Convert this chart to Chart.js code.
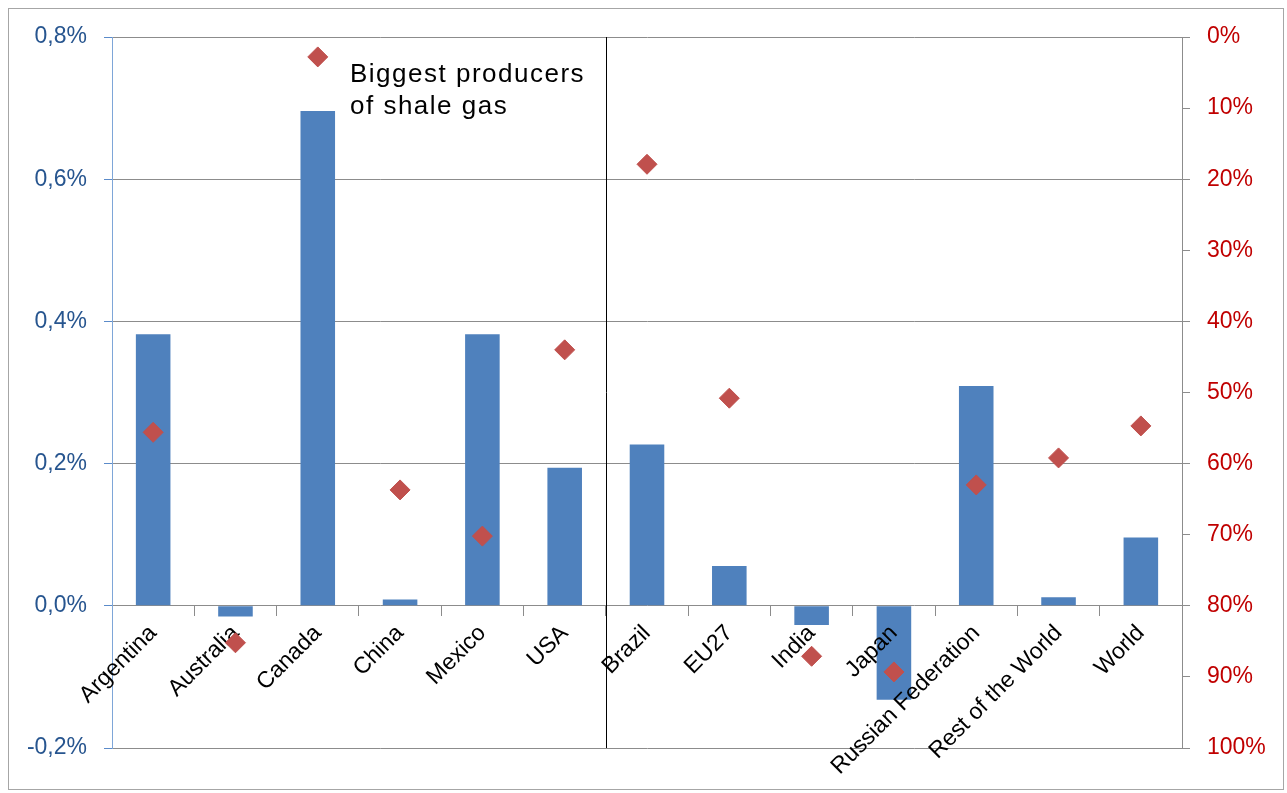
<!DOCTYPE html>
<html>
<head>
<meta charset="utf-8">
<script src="https://cdn.jsdelivr.net/npm/chart.js@4/dist/chart.umd.min.js"></script>
<style>
  html, body { margin: 0; padding: 0; background: #ffffff; }
  #wrap { width: 1287px; height: 793px; position: relative; }
</style>
</head>
<body>
<div id="wrap"><canvas id="c" width="1287" height="793"></canvas></div>
<script>
// ---- data ----
const categories = ['Argentina', 'Australia', 'Canada', 'China', 'Mexico', 'USA',
  'Brazil', 'EU27', 'India', 'Japan', 'Russian Federation', 'Rest of the World', 'World'];
// bars, left axis (percent)
const growthValues = [0.382, -0.015, 0.696, 0.009, 0.382, 0.194,
  0.227, 0.056, -0.027, -0.132, 0.309, 0.012, 0.096];
// diamonds, right axis (percent, reversed)
const shareValues = [55.6, 85.2, 2.8, 63.7, 70.2, 44.0,
  17.9, 50.8, 87.1, 89.3, 63.0, 59.2, 54.7];
const leftAxisTicks = [-0.2, 0, 0.2, 0.4, 0.6, 0.8];
const rightAxisTicks = [0, 10, 20, 30, 40, 50, 60, 70, 80, 90, 100];
const noteLines = ['Biggest producers', 'of shale gas'];
const dividerAfterIndex = 5; // line between USA and Brazil

const gridGray = '#8c8c8c';

const decorPlugin = {
  id: 'decor',
  beforeDraw(chart) {
    const ctx = chart.ctx;
    ctx.save();
    ctx.fillStyle = '#ffffff';
    ctx.fillRect(0, 0, chart.width, chart.height);
    ctx.strokeStyle = '#a6a6a6';
    ctx.lineWidth = 1;
    ctx.strokeRect(8.5, 8.5, 1275, 781);
    ctx.restore();
  },
  beforeDatasetsDraw(chart) {
    const ctx = chart.ctx;
    const x = chart.scales.x;
    const area = chart.chartArea;
    const px = Math.round((x.getPixelForValue(dividerAfterIndex) + x.getPixelForValue(dividerAfterIndex + 1)) / 2) + 0.5;
    ctx.save();
    ctx.strokeStyle = '#000000';
    ctx.lineWidth = 1;
    ctx.beginPath();
    ctx.moveTo(px, area.top);
    ctx.lineTo(px, area.bottom);
    ctx.stroke();
    ctx.restore();
  },
  beforeDatasetDraw(chart, args) {
    // diamonds are drawn later, above the category labels
    if (args.index === 0) return false;
  },
  afterDraw(chart) {
    const meta = chart.getDatasetMeta(0);
    if (meta && meta.controller) meta.controller.draw();
    const ctx = chart.ctx;
    ctx.save();
    ctx.fillStyle = '#000000';
    ctx.font = '26px "Liberation Sans", Arial, sans-serif';
    if ('letterSpacing' in ctx) ctx.letterSpacing = '1.5px';
    ctx.textAlign = 'left';
    ctx.textBaseline = 'alphabetic';
    noteLines.forEach((t, i) => ctx.fillText(t, 350, 82 + i * 32));
    ctx.restore();
  }
};

new Chart(document.getElementById('c'), {
  data: {
    labels: categories,
    datasets: [
      {
        type: 'line',
        label: 'Share',
        data: shareValues,
        yAxisID: 'y2',
        showLine: false,
        pointStyle: 'rectRot',
        pointRadius: 10,
        pointHoverRadius: 10,
        pointBackgroundColor: '#C0504D',
        pointBorderColor: '#C0504D',
        pointBorderWidth: 1,
        order: 0,
        clip: false
      },
      {
        type: 'bar',
        label: 'Growth',
        data: growthValues,
        yAxisID: 'y',
        backgroundColor: '#4F81BD',
        borderWidth: 0,
        categoryPercentage: 1.0,
        barPercentage: 0.42,
        order: 1
      }
    ]
  },
  options: {
    responsive: false,
    animation: false,
    events: [],
    layout: { padding: { top: 37, bottom: 45, left: 0, right: 0 } },
    plugins: { legend: { display: false }, tooltip: { enabled: false } },
    scales: {
      x: {
        type: 'category',
        position: { y: 0 },
        offset: true,
        grid: {
          display: true,
          drawOnChartArea: false,
          drawTicks: true,
          tickLength: 10,
          offset: true,
          color: gridGray,
          tickColor: gridGray
        },
        border: { display: false },
        ticks: {
          z: 1,
          color: '#000000',
          font: { family: '"Liberation Sans", Arial, sans-serif', size: 23 },
          minRotation: 45,
          maxRotation: 45,
          autoSkip: false,
          padding: 4
        },
        afterFit(s) { s.height = 0; }
      },
      y: {
        position: 'left',
        min: -0.2,
        max: 0.8,
        afterBuildTicks(s) { s.ticks = leftAxisTicks.map(v => ({ value: v })); },
        grid: {
          color: gridGray,
          tickColor: '#5B8BC9',
          tickLength: 8,
          drawTicks: true
        },
        border: { display: true, color: '#7EA6D8', width: 1 },
        ticks: {
          color: '#27558F',
          padding: 17,
          font: { family: '"Liberation Sans", Arial, sans-serif', size: 23 },
          callback: v => (Math.abs(v) < 1e-9 ? 0 : v).toFixed(1).replace('.', ',') + '%'
        },
        afterFit(s) { s.width = 112; }
      },
      y2: {
        position: 'right',
        reverse: true,
        min: 0,
        max: 100,
        afterBuildTicks(s) { s.ticks = rightAxisTicks.map(v => ({ value: v })); },
        grid: {
          drawOnChartArea: false,
          color: gridGray,
          tickColor: gridGray,
          tickLength: 8
        },
        border: { display: true, color: gridGray, width: 1 },
        ticks: {
          color: '#C00000',
          padding: 17,
          font: { family: '"Liberation Sans", Arial, sans-serif', size: 23 },
          callback: v => v + '%'
        },
        afterFit(s) { s.width = 105; }
      }
    }
  },
  plugins: [decorPlugin]
});
</script>
</body>
</html>
